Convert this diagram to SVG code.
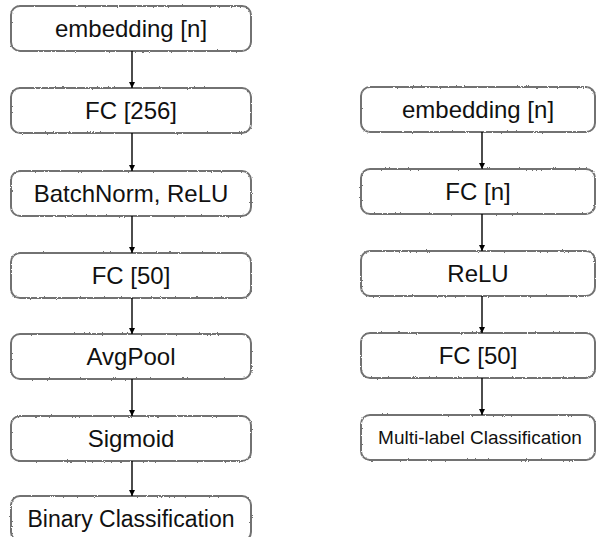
<svg xmlns="http://www.w3.org/2000/svg" width="596" height="537" viewBox="0 0 596 537">
  <defs>
    <!-- slight roughness for the pencil-like box outlines -->
    <filter id="rough" x="-5%" y="-20%" width="110%" height="140%">
      <feTurbulence type="fractalNoise" baseFrequency="1.2" numOctaves="2" seed="3" result="noise"/>
      <feDisplacementMap in="SourceGraphic" in2="noise" scale="2.2" xChannelSelector="R" yChannelSelector="G"/>
    </filter>
    <marker id="arrow" viewBox="0 0 10 10" refX="10" refY="5" markerWidth="6" markerHeight="7" markerUnits="userSpaceOnUse" orient="auto">
      <path d="M0,0 L10,5 L0,10 Z" fill="#000"/>
    </marker>
    <style>
      .box { fill: #fff; stroke: #727272; stroke-width: 2; filter: url(#rough); }
      .lbl { font-family: "Liberation Sans", Arial, Helvetica, sans-serif; font-size: 24px; fill: #111; text-anchor: middle; }
      .small { font-size: 19px; }
      .mid { font-size: 23px; }
      .edge { stroke: #000; stroke-width: 1.4; fill: none; marker-end: url(#arrow); }
    </style>
  </defs>
  <rect width="596" height="537" fill="#fff"/>

  <!-- left pipeline: binary classification -->
  <g id="l-embedding"><rect class="box" x="11" y="6" width="240" height="45" rx="9"/><text class="lbl" x="131" y="37">embedding [n]</text></g>
  <g id="l-fc256"><rect class="box" x="11" y="88" width="240" height="45" rx="9"/><text class="lbl" x="131" y="119">FC [256]</text></g>
  <g id="l-bnrelu"><rect class="box" x="11" y="171" width="240" height="45" rx="9"/><text class="lbl" x="131" y="202">BatchNorm, ReLU</text></g>
  <g id="l-fc50"><rect class="box" x="11" y="253" width="240" height="45" rx="9"/><text class="lbl" x="131" y="284">FC [50]</text></g>
  <g id="l-avgpool"><rect class="box" x="11" y="334" width="240" height="45" rx="9"/><text class="lbl" x="131" y="365">AvgPool</text></g>
  <g id="l-sigmoid"><rect class="box" x="11" y="416" width="240" height="45" rx="9"/><text class="lbl" x="131" y="447">Sigmoid</text></g>
  <g id="l-binary"><rect class="box" x="11" y="496" width="240" height="45" rx="9"/><text class="lbl mid" x="131" y="527">Binary Classification</text></g>

  <!-- right pipeline: multi-label classification -->
  <g id="r-embedding"><rect class="box" x="361" y="87" width="234" height="45" rx="9"/><text class="lbl" x="478" y="118">embedding [n]</text></g>
  <g id="r-fcn"><rect class="box" x="361" y="169" width="234" height="45" rx="9"/><text class="lbl" x="478" y="200">FC [n]</text></g>
  <g id="r-relu"><rect class="box" x="361" y="251" width="234" height="45" rx="9"/><text class="lbl" x="478" y="282">ReLU</text></g>
  <g id="r-fc50"><rect class="box" x="361" y="333" width="234" height="45" rx="9"/><text class="lbl" x="478" y="364">FC [50]</text></g>
  <g id="r-multilabel"><rect class="box" x="361" y="415" width="234" height="45" rx="9"/><text class="lbl small" x="480" y="444">Multi-label Classification</text></g>

  <g id="connectors">
    <line class="edge" x1="132" y1="51" x2="132" y2="88"/>
    <line class="edge" x1="132" y1="133" x2="132" y2="171"/>
    <line class="edge" x1="132" y1="216" x2="132" y2="253"/>
    <line class="edge" x1="132" y1="298" x2="132" y2="334"/>
    <line class="edge" x1="132" y1="379" x2="132" y2="416"/>
    <line class="edge" x1="132" y1="461" x2="132" y2="496"/>

    <line class="edge" x1="482" y1="132" x2="482" y2="169"/>
    <line class="edge" x1="482" y1="214" x2="482" y2="251"/>
    <line class="edge" x1="482" y1="296" x2="482" y2="333"/>
    <line class="edge" x1="482" y1="378" x2="482" y2="415"/>
  </g>
</svg>
